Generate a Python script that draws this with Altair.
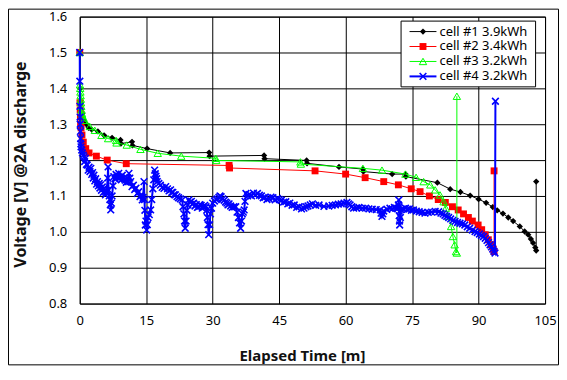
import altair as alt
import pandas as pd

# ---------------- data ----------------
series_names = ["cell #1 3.9kWh", "cell #2 3.4kWh", "cell #3 3.2kWh", "cell #4 3.2kWh"]

# (elapsed minutes, volts)
cell1 = [(0, 1.50), (0.1, 1.40), (0.3, 1.36), (0.6, 1.33), (1.0, 1.31), (1.5, 1.30), (2.0, 1.29),
         (2.7, 1.285), (4.1, 1.28), (5.5, 1.269), (7.3, 1.262), (9.2, 1.256), (9.3, 1.246),
         (11.8, 1.251), (11.9, 1.241), (15.2, 1.232), (20.4, 1.220), (29.2, 1.221), (29.3, 1.211),
         (41.6, 1.213), (41.7, 1.204), (51.2, 1.199), (51.3, 1.191), (58.5, 1.181), (63.9, 1.175),
         (64.0, 1.168), (70.5, 1.161), (73.5, 1.161), (73.6, 1.154), (80.7, 1.137), (83.6, 1.119),
         (85.9, 1.111), (88.1, 1.101), (90.0, 1.091), (91.7, 1.081), (93.2, 1.069), (94.2, 1.060),
         (95.5, 1.051), (96.7, 1.040), (97.8, 1.030), (99.3, 1.015), (100.4, 1.001), (101.2, 0.992),
         (101.8, 0.980), (102.3, 0.969), (102.8, 0.956), (103.0, 0.948), (103.0, 1.140)]

cell2 = [(0, 1.50), (0.05, 1.36), (0.1, 1.34), (0.15, 1.32), (0.2, 1.30), (0.3, 1.29), (0.5, 1.27),
         (0.8, 1.25), (1.35, 1.232), (2.1, 1.220), (3.75, 1.211), (6.2, 1.200), (10.5, 1.190),
         (33.7, 1.185), (33.8, 1.178), (53.1, 1.170), (60.0, 1.161), (64.4, 1.151), (68.6, 1.140),
         (71.9, 1.131), (74.8, 1.120), (76.8, 1.112), (78.9, 1.100), (80.9, 1.090), (82.5, 1.082),
         (84.1, 1.070), (85.4, 1.061), (86.6, 1.050), (87.7, 1.040), (88.6, 1.030), (89.9, 1.019),
         (90.7, 1.006), (91.5, 0.992), (92.2, 0.978), (92.8, 0.964), (93.3, 0.952), (93.5, 0.945),
         (93.5, 1.170)]

cell3 = [(0, 1.50), (0.05, 1.41), (0.1, 1.40), (0.15, 1.39), (0.2, 1.38), (0.25, 1.37), (0.3, 1.36),
         (0.35, 1.35), (0.4, 1.34), (0.5, 1.33), (0.6, 1.325), (0.8, 1.318), (1.1, 1.311),
         (2.25, 1.294), (3.4, 1.283), (4.9, 1.269), (6.4, 1.260), (8.2, 1.255), (8.3, 1.248),
         (10.6, 1.242), (13.7, 1.230), (17.6, 1.219), (22.9, 1.211), (30.7, 1.205), (30.8, 1.199),
         (49.8, 1.195), (49.9, 1.189), (63.9, 1.177), (68.2, 1.172), (73.5, 1.161), (75.9, 1.152),
         (77.6, 1.140), (79.1, 1.131), (80.2, 1.117), (81.3, 1.103), (82.1, 1.084), (82.6, 1.066),
         (83.2, 1.043), (83.8, 1.015), (84.2, 0.987), (84.6, 0.964), (84.9, 0.945), (85.1, 0.941),
         (85.1, 1.378)]

cell4 = [(0, 1.50), (0.02, 1.42), (0.05, 1.35), (0.08, 1.32), (0.1, 1.30), (0.15, 1.28), (0.2, 1.26),
         (0.25, 1.245), (0.3, 1.237), (0.45, 1.228), (0.6, 1.22), (0.8, 1.214), (0.97, 1.209),
         (1.1, 1.196), (1.3, 1.205), (1.5, 1.188), (1.7, 1.186), (1.9, 1.172), (2.1, 1.180),
         (2.3, 1.168), (2.5, 1.177), (2.7, 1.160), (2.9, 1.165), (3.05, 1.150), (3.2, 1.158),
         (3.4, 1.142), (3.6, 1.148), (3.8, 1.133), (4.0, 1.140), (4.2, 1.128), (4.4, 1.135),
         (4.55, 1.122), (4.7, 1.131), (4.9, 1.116), (5.1, 1.125), (5.3, 1.110), (5.5, 1.121),
         (5.65, 1.112), (5.8, 1.103), (5.95, 1.110), (6.1, 1.115), (6.3, 1.150), (6.4, 1.181),
         (6.5, 1.117), (6.65, 1.100), (6.8, 1.090), (6.9, 1.075), (7.0, 1.061), (7.15, 1.080),
         (7.3, 1.100), (7.5, 1.128), (7.7, 1.154), (7.95, 1.148), (8.2, 1.160), (8.5, 1.152),
         (8.8, 1.163), (9.0, 1.150), (9.2, 1.152), (9.4, 1.145), (9.6, 1.158), (9.95, 1.150),
         (10.3, 1.144), (10.5, 1.138), (10.7, 1.150), (10.9, 1.140), (11.1, 1.163), (11.3, 1.150),
         (11.5, 1.140), (11.8, 1.126), (12.1, 1.130), (12.4, 1.118), (12.7, 1.122), (13.0, 1.107),
         (13.3, 1.112), (13.6, 1.098), (13.85, 1.102), (14.1, 1.089), (14.3, 1.096), (14.5, 1.140),
         (14.6, 1.090), (14.7, 1.060), (14.8, 1.019), (14.95, 1.030), (15.1, 1.005), (15.25, 1.020),
         (15.4, 1.040), (15.7, 1.048), (16.0, 1.061), (16.25, 1.090), (16.5, 1.120), (16.7, 1.145),
         (16.9, 1.172), (17.05, 1.162), (17.2, 1.155), (17.35, 1.148), (17.5, 1.140), (17.85, 1.135),
         (18.2, 1.130), (18.6, 1.124), (19.0, 1.121), (19.4, 1.126), (19.8, 1.120), (20.15, 1.114),
         (20.5, 1.117), (20.75, 1.110), (21.0, 1.110), (21.3, 1.104), (21.6, 1.103), (21.95, 1.098),
         (22.3, 1.095), (22.7, 1.092), (23.1, 1.089), (23.3, 1.070), (23.5, 1.050), (23.65, 1.030),
         (23.8, 1.010), (24.0, 1.030), (24.2, 1.060), (24.4, 1.075), (24.6, 1.089), (24.9, 1.083),
         (25.2, 1.085), (25.45, 1.078), (25.7, 1.080), (26.0, 1.072), (26.3, 1.076), (26.55, 1.068),
         (26.8, 1.070), (27.1, 1.076), (27.4, 1.074), (27.65, 1.066), (27.9, 1.070), (28.2, 1.074),
         (28.5, 1.070), (28.65, 1.060), (28.8, 1.040), (28.95, 1.020), (29.1, 0.992), (29.3, 1.020),
         (29.5, 1.050), (29.75, 1.066), (30.0, 1.080), (30.4, 1.086), (30.8, 1.090), (31.1, 1.092),
         (31.4, 1.096), (31.65, 1.100), (31.9, 1.098), (32.25, 1.092), (32.6, 1.088), (32.9, 1.083),
         (33.2, 1.080), (33.45, 1.075), (33.7, 1.078), (34.05, 1.072), (34.4, 1.068), (34.8, 1.070),
         (35.2, 1.070), (35.5, 1.055), (35.8, 1.040), (36.05, 1.025), (36.3, 1.010), (36.5, 1.030),
         (36.7, 1.050), (36.9, 1.055), (37.1, 1.061), (37.3, 1.085), (37.5, 1.107), (37.9, 1.100),
         (38.3, 1.104), (38.75, 1.100), (39.2, 1.108), (39.65, 1.103), (40.1, 1.107), (40.55, 1.102),
         (41.0, 1.100), (41.4, 1.095), (41.8, 1.096), (42.25, 1.090), (42.7, 1.093), (43.15, 1.097),
         (43.6, 1.095), (44.1, 1.089), (44.6, 1.093), (45.05, 1.090), (45.5, 1.088), (46.0, 1.083),
         (46.5, 1.084), (46.95, 1.078), (47.4, 1.080), (47.9, 1.074), (48.4, 1.075), (48.95, 1.068),
         (49.5, 1.070), (50.05, 1.064), (50.6, 1.066), (51.05, 1.070), (51.5, 1.072), (52.0, 1.075),
         (52.5, 1.078), (53.25, 1.074), (54.0, 1.075), (55.1, 1.071), (56.2, 1.072), (56.95, 1.074),
         (57.7, 1.075), (58.35, 1.077), (59.0, 1.078), (59.65, 1.080), (60.3, 1.082), (60.65, 1.078),
         (61.0, 1.075), (61.4, 1.070), (61.8, 1.066), (62.4, 1.067), (63.0, 1.068), (63.75, 1.066),
         (64.5, 1.066), (65.25, 1.064), (66.0, 1.063), (66.9, 1.062), (67.8, 1.061), (68.0, 1.052),
         (68.2, 1.043), (68.4, 1.050), (68.6, 1.058), (69.3, 1.063), (70.0, 1.066), (70.5, 1.064),
         (71.0, 1.068), (71.4, 1.066), (71.8, 1.066), (71.9, 1.075), (72.0, 1.089), (72.05, 1.070),
         (72.1, 1.045), (72.15, 1.030), (72.2, 1.019), (72.35, 1.040), (72.5, 1.062), (73.0, 1.064),
         (73.5, 1.066), (73.95, 1.063), (74.4, 1.064), (74.85, 1.060), (75.3, 1.061), (75.95, 1.058),
         (76.6, 1.056), (77.25, 1.054), (77.9, 1.052), (78.65, 1.054), (79.4, 1.055), (80.2, 1.057),
         (81.0, 1.056), (81.5, 1.052), (82.0, 1.050), (82.4, 1.046), (82.8, 1.043), (83.25, 1.040),
         (83.7, 1.036), (84.2, 1.032), (84.7, 1.029), (85.25, 1.026), (85.8, 1.024), (86.35, 1.022),
         (86.9, 1.019), (87.45, 1.014), (88.0, 1.010), (88.6, 1.005), (89.2, 1.001), (89.7, 0.998),
         (90.2, 0.994), (90.65, 0.990), (91.1, 0.987), (91.5, 0.982), (91.9, 0.976), (92.25, 0.970),
         (92.6, 0.964), (92.9, 0.958), (93.2, 0.952), (93.45, 0.946), (93.7, 0.941), (93.8, 1.364)]

x_ticks = [0, 15, 30, 45, 60, 75, 90, 105]
y_ticks = [0.8, 0.9, 1.0, 1.1, 1.2, 1.3, 1.4, 1.5, 1.6]

# ---------------- chart ----------------
FONT = "Noto Sans"
W, H = 467, 288


def frame(pairs):
    return pd.DataFrame({"t": [p[0] for p in pairs], "v": [p[1] for p in pairs],
                         "i": list(range(len(pairs)))})


X = alt.X("t:Q", scale=alt.Scale(domain=[0, 105], nice=False, zero=False),
          axis=alt.Axis(values=x_ticks, title="Elapsed Time [m]", grid=True, ticks=False,
                        domain=False, labelPadding=11, labelFontSize=13, labelFont=FONT,
                        labelColor="black", labelFlush=False, labelOverlap=False,
                        titleFont=FONT, titleFontSize=15,
                        titleFontWeight="bold", titleColor="#111111",
                        titleX=223, titleY=57, titleBaseline="alphabetic",
                        titleAlign="center", titleAnchor="start"))
Y = alt.Y("v:Q", scale=alt.Scale(domain=[0.8, 1.6], nice=False, zero=False),
          axis=alt.Axis(values=y_ticks, format=".1f", title="Voltage [V] @2A discharge",
                        grid=True, ticks=False, domain=False, labelPadding=13,
                        labelFontSize=13, labelFont=FONT, labelColor="black",
                        labelFlush=False, labelOverlap=False,
                        titleFont=FONT, titleFontSize=16, titleFontWeight="bold",
                        titleColor="#111111", titleAngle=270, titleX=-59, titleY=148,
                        titleBaseline="middle", titleAlign="center", titleAnchor="start"))

XSHAPE = "M-1,-1L1,1M-1,1L1,-1"

specs = [
    (cell1, "black", 1, dict(shape="diamond", filled=True, size=40)),
    (cell2, "#ff0000", 1, dict(shape="square", filled=True, size=48)),
    (cell3, "#00ff00", 1, dict(shape="triangle-up", filled=False, size=55, strokeWidth=1)),
    (cell4, "#0000ff", 2, dict(shape=XSHAPE, filled=False, size=45, strokeWidth=1.6)),
]

layers = []
for pairs, col, lw, mk in specs:
    base = alt.Chart(frame(pairs))
    layers.append(base.mark_line(color=col, strokeWidth=lw).encode(x=X, y=Y, order="i:Q"))
    layers.append(base.mark_point(color=col, opacity=1, **mk).encode(x=X, y=Y))

one = pd.DataFrame({"a": [0]})

# outer chart border
layers.append(alt.Chart(one).mark_rect(fill=None, stroke="black", strokeWidth=1, clip=False)
              .encode(x=alt.value(-71.5), x2=alt.value(480.5),
                      y=alt.value(-7.5), y2=alt.value(349.5)))

# legend box
layers.append(alt.Chart(one).mark_rect(fill="white", stroke="black", strokeWidth=1)
              .encode(x=alt.value(322.5), x2=alt.value(457.5),
                      y=alt.value(4.5), y2=alt.value(70.5)))
row_y = [15, 30, 45, 60]
for k, (pairs, col, lw, mk) in enumerate(specs):
    yy = row_y[k]
    layers.append(alt.Chart(one).mark_rule(color=col, strokeWidth=lw)
                  .encode(x=alt.value(331), x2=alt.value(358), y=alt.value(yy)))
    layers.append(alt.Chart(one).mark_point(color=col, opacity=1, **mk)
                  .encode(x=alt.value(344.5), y=alt.value(yy)))
    layers.append(alt.Chart(one).mark_text(text=series_names[k], align="left",
                                           baseline="middle", font=FONT, fontSize=13,
                                           color="black")
                  .encode(x=alt.value(361), y=alt.value(yy)))

chart = (alt.layer(*layers)
         .properties(width=W, height=H, background="white",
                     padding={"left": 72, "top": 8, "right": 14, "bottom": 62},
                     autosize=alt.AutoSizeParams(type="none"))
         .configure_view(stroke="black", strokeWidth=1)
         .configure_axis(gridColor="black", gridOpacity=1, gridWidth=1))

chart.save("out.html", embed_options={"renderer": "svg", "actions": False})
